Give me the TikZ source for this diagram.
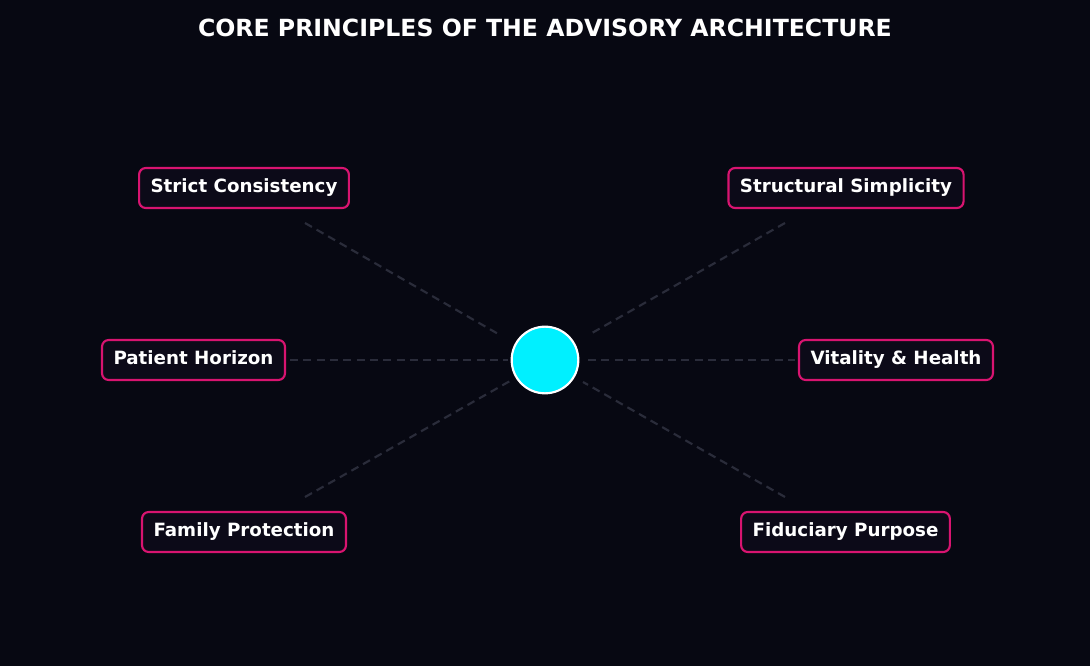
\documentclass[tikz,border=0pt]{standalone}
\usepackage{fontspec}
\setmainfont{DejaVu Sans}
\definecolor{bg}{HTML}{070812}
\definecolor{pinkb}{HTML}{D81470}
\definecolor{boxf}{HTML}{0C0A18}
\definecolor{dash}{HTML}{2A2C3A}
\definecolor{cyanc}{HTML}{00F0FF}
\begin{document}
\begin{tikzpicture}[x=0.75pt,y=-0.75pt,
  lbl/.style={draw=pinkb,line width=1.6pt,fill=boxf,rounded corners=5pt,text=white,font=\bfseries\fontsize{13.7}{16}\selectfont,minimum height=30pt,inner xsep=8.6pt,text height=10pt,text depth=2.6pt},
  conn/.style={draw=dash,line width=1.6pt,dash pattern=on 6pt off 4pt}]
\fill[bg] (0,0) rectangle (1090,666);
\useasboundingbox (0,0) rectangle (1090,666);
\node[text=white,font=\bfseries\fontsize{17.7}{20}\selectfont] (title) at (545,28) {CORE PRINCIPLES OF THE ADVISORY ARCHITECTURE};
\coordinate (a1) at (305,223); \coordinate (a2) at (500,335);
\coordinate (b1) at (785,223); \coordinate (b2) at (592,333);
\coordinate (c1) at (290,360); \coordinate (c2) at (508,360);
\coordinate (d1) at (588,360); \coordinate (d2) at (795,360);
\coordinate (e1) at (305,497); \coordinate (e2) at (510,381);
\coordinate (f1) at (785,497); \coordinate (f2) at (583,382);
\draw[conn] (a1) -- (a2); \draw[conn] (b1) -- (b2); \draw[conn] (c1) -- (c2);
\draw[conn] (d1) -- (d2); \draw[conn] (e1) -- (e2); \draw[conn] (f1) -- (f2);
\node[circle,fill=cyanc,draw=white,line width=1.6pt,minimum size=50pt,inner sep=0pt] (hub) at (545,360) {};
\node[lbl] (sc) at (244,188) {Strict Consistency};
\node[lbl] (ss) at (846,188) {Structural Simplicity};
\node[lbl] (ph) at (193.5,360) {Patient Horizon};
\node[lbl] (vh) at (896,360) {Vitality \& Health};
\node[lbl] (fp) at (244,532) {Family Protection};
\node[lbl] (fu) at (845.5,532) {Fiduciary Purpose};
\end{tikzpicture}
\end{document}
